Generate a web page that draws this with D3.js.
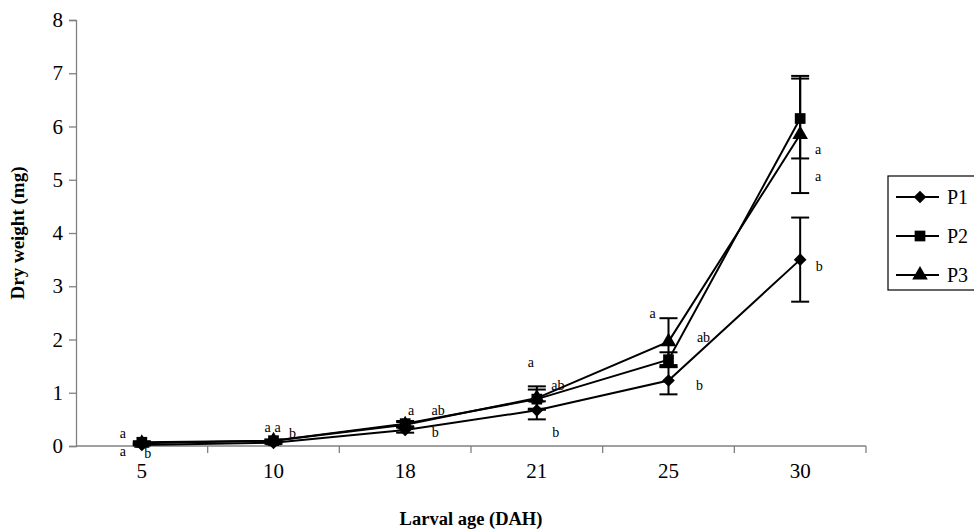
<!DOCTYPE html>
<html>
<head>
<meta charset="utf-8">
<script src="https://cdn.jsdelivr.net/npm/d3@7"></script>
<style>
  body { margin: 0; background: #fff; }
  svg text { font-family: "Liberation Serif", "Times New Roman", Times, "DejaVu Serif", serif; }
</style>
</head>
<body>
<div id="chart"></div>
<script>
// larval age (days after hatching)
var ages = ["5", "10", "18", "21", "25", "30"];
var seriesNames = ["P1", "P2", "P3"];

// mean dry weight (mg)
var p1 = [0.02, 0.06, 0.30, 0.67, 1.23, 3.50];
var p2 = [0.07, 0.10, 0.42, 0.88, 1.62, 6.15];
var p3 = [0.05, 0.10, 0.40, 0.90, 1.96, 5.85];

// error (+/-)
var p1Err = [0.01, 0.02, 0.05, 0.17, 0.26, 0.79];
var p2Err = [0.02, 0.02, 0.05, 0.18, 0.14, 0.75];
var p3Err = [0.02, 0.02, 0.05, 0.22, 0.44, 1.10];

// significance letters: [age index, letter, x offset (px), y position (mg)]
var letters = [
  [0, "a", -19, 0.23], [0, "a", -19, -0.11], [0, "b", 6, -0.15],
  [1, "a", -6, 0.34], [1, "a", 4, 0.34], [1, "b", 19, 0.23],
  [2, "a", 6, 0.66], [2, "ab", 33, 0.66], [2, "b", 30, 0.25],
  [3, "a", -6, 1.56], [3, "ab", 21, 1.13], [3, "b", 19, 0.25],
  [4, "a", -16, 2.48], [4, "ab", 35, 2.03], [4, "b", 31, 1.13],
  [5, "a", 18, 5.56], [5, "a", 18, 5.06], [5, "b", 19, 3.38]
];

var yTicks = [0, 1, 2, 3, 4, 5, 6, 7, 8];

var width = 974, height = 531;
var margin = {left: 76, right: 108, top: 20, bottom: 85};

var svg = d3.select("#chart").append("svg")
  .attr("width", width)
  .attr("height", height);

var x = d3.scaleBand()
  .domain(ages)
  .range([margin.left, width - margin.right]);

var y = d3.scaleLinear()
  .domain([0, 8])
  .range([height - margin.bottom, margin.top]);

var axisColor = "#808080";

// y axis
var yAxis = svg.append("g")
  .attr("transform", "translate(" + margin.left + ",0)")
  .call(d3.axisLeft(y).tickValues(yTicks).tickSize(7).tickPadding(6));
yAxis.attr("font-family", null);
yAxis.select(".domain").attr("stroke", axisColor).attr("stroke-width", 1.3);
yAxis.selectAll(".tick line").attr("stroke", axisColor).attr("stroke-width", 1.3);
yAxis.selectAll(".tick text")
  .attr("fill", "#000")
  .style("font-size", "21px");

// x axis, ticks at the category boundaries
var xAxis = svg.append("g")
  .attr("transform", "translate(0," + y(0) + ")");
xAxis.append("line")
  .attr("x1", margin.left).attr("x2", width - margin.right)
  .attr("stroke", axisColor).attr("stroke-width", 1.3);
var bounds = ages.map(function(d) { return x(d); }).concat([x(ages[ages.length - 1]) + x.bandwidth()]);
xAxis.selectAll(".xtick")
  .data(bounds.slice(1))
  .enter().append("line")
  .attr("x1", function(d) { return d; }).attr("x2", function(d) { return d; })
  .attr("y1", 0).attr("y2", 7)
  .attr("stroke", axisColor).attr("stroke-width", 1.3);
xAxis.selectAll(".xlabel")
  .data(ages)
  .enter().append("text")
  .attr("x", function(d) { return x(d) + x.bandwidth() / 2; })
  .attr("y", 32)
  .attr("text-anchor", "middle")
  .style("font-size", "21px")
  .text(function(d) { return d; });

// axis titles
svg.append("text")
  .attr("transform", "translate(24," + y(4) + ") rotate(-90)")
  .attr("text-anchor", "middle")
  .style("font-size", "19px")
  .style("font-weight", "bold")
  .text("Dry weight (mg)");

svg.append("text")
  .attr("x", (margin.left + width - margin.right) / 2)
  .attr("y", 525)
  .attr("text-anchor", "middle")
  .style("font-size", "18.5px")
  .style("font-weight", "bold")
  .text("Larval age (DAH)");

var diamond = {
  draw: function(ctx, size) {
    var r = Math.sqrt(size / 2);
    ctx.moveTo(0, -r); ctx.lineTo(r, 0); ctx.lineTo(0, r); ctx.lineTo(-r, 0); ctx.closePath();
  }
};

var series = [
  {name: "P1", values: p1, err: p1Err, symbol: diamond, size: 80},
  {name: "P2", values: p2, err: p2Err, symbol: d3.symbolSquare, size: 115},
  {name: "P3", values: p3, err: p3Err, symbol: d3.symbolTriangle, size: 105}
];

function cx(i) { return x(ages[i]) + x.bandwidth() / 2; }

// error bars
series.forEach(function(s) {
  var g = svg.append("g").attr("stroke", "#000").attr("stroke-width", 2);
  s.values.forEach(function(v, i) {
    var lo = y(v - s.err[i]), hi = y(v + s.err[i]);
    g.append("line").attr("x1", cx(i)).attr("x2", cx(i)).attr("y1", lo).attr("y2", hi);
    g.append("line").attr("x1", cx(i) - 9).attr("x2", cx(i) + 9).attr("y1", lo).attr("y2", lo);
    g.append("line").attr("x1", cx(i) - 9).attr("x2", cx(i) + 9).attr("y1", hi).attr("y2", hi);
  });
});

var line = d3.line()
  .x(function(d, i) { return cx(i); })
  .y(function(d) { return y(d); });

series.forEach(function(s) {
  svg.append("path")
    .datum(s.values)
    .attr("d", line)
    .attr("fill", "none")
    .attr("stroke", "#000")
    .attr("stroke-width", 2);
});

series.forEach(function(s) {
  svg.selectAll(null)
    .data(s.values)
    .enter().append("path")
    .attr("transform", function(d, i) { return "translate(" + cx(i) + "," + y(d) + ")"; })
    .attr("d", d3.symbol().type(s.symbol).size(s.size))
    .attr("fill", "#000");
});

// significance letters
svg.selectAll(".letter")
  .data(letters)
  .enter().append("text")
  .attr("x", function(d) { return cx(d[0]) + d[2]; })
  .attr("y", function(d) { return y(d[3]); })
  .attr("text-anchor", "middle")
  .attr("dominant-baseline", "central")
  .style("font-size", "14px")
  .text(function(d) { return d[1]; });

// legend
var legend = svg.append("g").attr("transform", "translate(888,176)");
legend.append("rect")
  .attr("x", 0).attr("y", 0)
  .attr("width", 100).attr("height", 114)
  .attr("fill", "#fff")
  .attr("stroke", "#000")
  .attr("stroke-width", 1.2);
series.forEach(function(s, i) {
  var ly = 21 + i * 39;
  legend.append("line")
    .attr("x1", 8).attr("x2", 51).attr("y1", ly).attr("y2", ly)
    .attr("stroke", "#000").attr("stroke-width", 2);
  legend.append("path")
    .attr("transform", "translate(32," + ly + ")")
    .attr("d", d3.symbol().type(s.symbol).size(s.size))
    .attr("fill", "#000");
  legend.append("text")
    .attr("x", 59).attr("y", ly)
    .attr("dominant-baseline", "central")
    .style("font-size", "20px")
    .text(s.name);
});
</script>
</body>
</html>
